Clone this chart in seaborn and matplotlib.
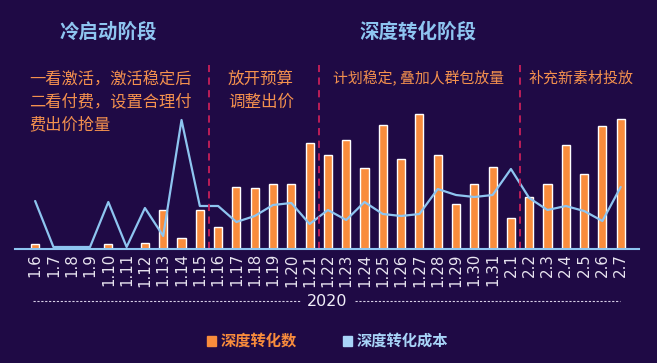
import matplotlib
matplotlib.use("Agg")
import matplotlib.pyplot as plt
import seaborn as sns
import pandas as pd
import numpy as np

dates = ["1.6", "1.7", "1.8", "1.9", "1.10", "1.11", "1.12", "1.13", "1.14", "1.15",
         "1.16", "1.17", "1.18", "1.19", "1.20", "1.21", "1.22", "1.23", "1.24", "1.25",
         "1.26", "1.27", "1.28", "1.29", "1.30", "1.31", "2.1", "2.2", "2.3", "2.4",
         "2.5", "2.6", "2.7"]
conversions = [5, 0, 0, 0, 5, 0, 6, 39, 11, 39,
               22, 62, 61, 65, 65, 106, 94, 109, 81, 124,
               90, 135, 94, 45, 65, 82, 31, 52, 65, 104,
               75, 123, 130]
cost = [48, 2, 2, 2, 47, 2, 41, 13, 129, 43,
        43, 27, 33, 44, 46, 25, 39, 29, 47, 35,
        33, 35, 60, 54, 52, 54, 80, 51, 39, 43,
        38, 28, 62]
stage_titles = ["冷启动阶段", "深度转化阶段"]
notes = ["一看激活，激活稳定后\n二看付费，设置合理付\n费出价抢量", "放开预算\n调整出价",
         "计划稳定, 叠加人群包放量", "补充新素材投放"]
year_label = "2020"
legend_labels = ["深度转化数", "深度转化成本"]

BG = "#1f0a45"
ORANGE = "#f98c3c"
NOTE = "#f4914e"
BLUE = "#8ec5f0"
RED = "#c8205a"

sns.set_theme(style="white")
plt.rcParams["font.family"] = ["Noto Sans CJK SC", "DejaVu Sans"]

df = pd.DataFrame({"date": dates, "conv": conversions, "cost": cost})
df["x"] = np.arange(len(df))

fig = plt.figure(figsize=(6.57, 3.63), dpi=100, facecolor=BG)
W, H = 657, 363
ax = fig.add_axes([15 / W, 1 - 249 / H, (639 - 15) / W, (249 - 10) / H])
ax.set_facecolor(BG)

sns.barplot(data=df, x="x", y="conv", color=ORANGE, width=0.44, ax=ax,
            saturation=1, native_scale=True)
sns.lineplot(data=df, x="x", y="cost", color=BLUE, linewidth=1.6, ax=ax)

ax.set_xlim(-1.1, 33.0)
ax.set_ylim(0, 239)
for s in ["top", "right", "left"]:
    ax.spines[s].set_visible(False)
ax.spines["bottom"].set_color(BLUE)
ax.spines["bottom"].set_linewidth(1.5)
ax.set_yticks([])
ax.set_xticks(df["x"])
ax.set_xticklabels(dates, rotation=90, color="#e8e4f0", fontsize=10.8,
                   family="DejaVu Sans")
ax.tick_params(axis="x", length=0, pad=3)
ax.set_xlabel("")
ax.set_ylabel("")

# separators
for xs in [9.5, 15.5, 26.5]:
    ax.vlines(xs, 0, 184, colors=RED, linestyles=(0, (4, 3)), linewidth=1.3)

def fx(px):
    return px / W

def fy(py):
    return 1 - py / H

fig.text(fx(108), fy(32), stage_titles[0], color=BLUE, fontsize=14,
         fontweight="bold", ha="center", va="center")
fig.text(fx(418), fy(32), stage_titles[1], color=BLUE, fontsize=14,
         fontweight="bold", ha="center", va="center")

fig.text(fx(29), fy(71), notes[0], color=NOTE, fontsize=11.7, ha="left", va="top",
         linespacing=1.42)
fig.text(fx(228), fy(71), notes[1], color=NOTE, fontsize=11.9, ha="left", va="top",
         linespacing=1.42)
fig.text(fx(333), fy(71), notes[2], color=NOTE, fontsize=10.7, ha="left", va="top")
fig.text(fx(529), fy(71), notes[3], color=NOTE, fontsize=10.8, ha="left", va="top")

# year label with dotted lines
fig.text(fx(327), fy(302), year_label, color="#f0eef8", fontsize=11.5,
         ha="center", va="center", family="DejaVu Sans")
fig.add_artist(plt.Line2D([fx(33), fx(300)], [fy(301), fy(301)], color="#d8d0e8",
                          linewidth=0.8, linestyle=(0, (2, 1.5))))
fig.add_artist(plt.Line2D([fx(355), fx(620)], [fy(301), fy(301)], color="#d8d0e8",
                          linewidth=0.8, linestyle=(0, (2, 1.5))))

# legend
fig.add_artist(plt.Rectangle((fx(207), fy(346)), 9 / W, 10 / H, color=ORANGE))
fig.text(fx(221), fy(341), legend_labels[0], color=ORANGE, fontsize=11,
         fontweight="bold", ha="left", va="center")
fig.add_artist(plt.Rectangle((fx(343), fy(346)), 9 / W, 10 / H, color="#a8d4f8"))
fig.text(fx(357), fy(341), legend_labels[1], color="#a8d4f8", fontsize=11,
         fontweight="bold", ha="left", va="center")

fig.savefig("out.png", dpi=100, facecolor=BG)
